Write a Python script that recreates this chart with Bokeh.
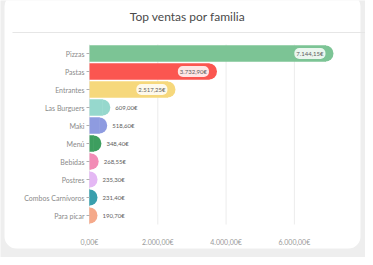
from math import pi
from bokeh.plotting import figure
from bokeh.models import FixedTicker, BoxAnnotation, ColumnDataSource, Range1d
from bokeh.core.properties import value
from bokeh.embed import file_html
from bokeh.resources import INLINE

categories = ["Pizzas", "Pastas", "Entrantes", "Las Burguers", "Maki", "Menú",
              "Bebidas", "Postres", "Combos Carnívoros", "Para picar"]
sales = [7144.15, 3732.90, 2517.25, 609.00, 518.60, 348.40, 268.55, 235.30, 231.40, 190.70]
sales_labels = ["7.144,15€", "3.732,90€", "2.517,25€", "609,00€", "518,60€", "348,40€",
                "268,55€", "235,30€", "231,40€", "190,70€"]
colors = ["#7cc495", "#fb5650", "#f6d87c", "#96d8cd", "#8e9be0", "#3d9e5f",
          "#f28cb6", "#e4b8f4", "#3a9fad", "#f5a98a"]
x_ticks = [0, 2000, 4000, 6000]
x_tick_labels = ["0,00€", "2.000,00€", "4.000,00€", "6.000,00€"]
title_text = "Top ventas por familia"

# layout (pixels inside the canvas)
W, H = 365, 257
X0_PX = 89          # pixel x of value 0
PX = 68.3 / 2000    # pixels per euro
ROW = 18.0          # pixels per category row
TOP_ROW_PX = 53     # pixel y of first row centre
R = 8               # bar cap radius (px)
FONT = "Lato"

n = len(categories)
ypos = [n - 1 - i for i in range(n)]
x_start = -X0_PX / PX
x_end = (W - X0_PX) / PX
y_end = (n - 1) + TOP_ROW_PX / ROW
y_start = y_end - H / ROW


def fx(px):
    return x_start + px / PX


def fy(py):
    return y_end - py / ROW


p = figure(width=W, height=H, output_backend="svg", toolbar_location=None,
           x_range=Range1d(x_start, x_end), y_range=Range1d(y_start, y_end),
           min_border=0)
p.border_fill_color = "#eeeeee"
p.background_fill_color = "#eeeeee"
p.outline_line_color = None
p.grid.visible = False

# card
p.add_layout(BoxAnnotation(left=fx(4), right=fx(360), top=fy(-6), bottom=fy(248),
                           fill_color="white", fill_alpha=1, line_color=None,
                           border_radius=12, level="image"))
p.add_layout(BoxAnnotation(left=fx(12), right=fx(W + 5), top=fy(31.5), bottom=fy(32.5),
                           fill_color="#e6e6e6", fill_alpha=1, line_color=None, level="image"))
p.text(x=[fx(187)], y=[fy(16)], text=[title_text], text_align="center", text_baseline="middle",
       text_font=value(FONT), text_font_size="12px", text_color="#4a4a4a")

# grid lines over the plotting area
p.segment(x0=x_ticks, x1=x_ticks, y0=[-0.5] * len(x_ticks), y1=[n - 0.5] * len(x_ticks),
          line_color="#ececec", line_width=1)

rpx = R / PX
centers = [max(v - rpx, 0) for v in sales]
src = ColumnDataSource(dict(y=ypos, val=sales, lab=sales_labels, col=colors,
                            cen=centers, cen2=[c + 0.5 / PX for c in centers]))
p.hbar(y="y", left=0, right="cen2", height=0.92, fill_color="col", line_color=None, source=src)
p.wedge(x="cen", y="y", radius=R, radius_units="screen", start_angle=-pi / 2, end_angle=pi / 2,
        fill_color="col", line_color=None, source=src)

inside = [i for i, v in enumerate(sales) if v * PX > 50]
outside = [i for i in range(n) if i not in inside]
src_in = ColumnDataSource(dict(y=[ypos[i] for i in inside], x=[sales[i] for i in inside],
                               lab=[sales_labels[i] for i in inside]))
src_out = ColumnDataSource(dict(y=[ypos[i] for i in outside],
                                x=[max(sales[i], rpx) for i in outside],
                                lab=[sales_labels[i] for i in outside]))
p.text(x="x", y="y", text="lab", source=src_in, x_offset=-8, text_align="right",
       text_baseline="middle", text_font=value(FONT), text_font_size="6px", text_color="#606060",
       background_fill_color="white", background_fill_alpha=0.85, padding=2, border_radius=5)
p.text(x="x", y="y", text="lab", source=src_out, x_offset=5, text_align="left",
       text_baseline="middle", text_font=value(FONT), text_font_size="6px", text_color="#606060")

p.xaxis.fixed_location = -0.5
p.xaxis.ticker = FixedTicker(ticks=x_ticks)
p.xaxis.major_label_overrides = {t: l for t, l in zip(x_ticks, x_tick_labels)}
p.xaxis.axis_line_color = None
p.xaxis.major_tick_line_color = None
p.xaxis.minor_tick_line_color = None
p.xaxis.major_label_text_font = FONT
p.xaxis.major_label_text_font_size = "7px"
p.xaxis.major_label_text_color = "#999999"
p.xaxis.major_label_standoff = 7

p.yaxis.fixed_location = 0
p.yaxis.ticker = FixedTicker(ticks=ypos)
p.yaxis.major_label_overrides = {yv: c for yv, c in zip(ypos, categories)}
p.yaxis.axis_line_color = None
p.yaxis.major_tick_line_color = "#b0b0b0"
p.yaxis.minor_tick_line_color = None
p.yaxis.major_tick_out = 3
p.yaxis.major_tick_in = 0
p.yaxis.major_label_text_font = FONT
p.yaxis.major_label_text_font_size = "7px"
p.yaxis.major_label_text_color = "#8a8a8a"
p.yaxis.major_label_standoff = 2

open("out.html", "w").write(file_html(p, INLINE))
